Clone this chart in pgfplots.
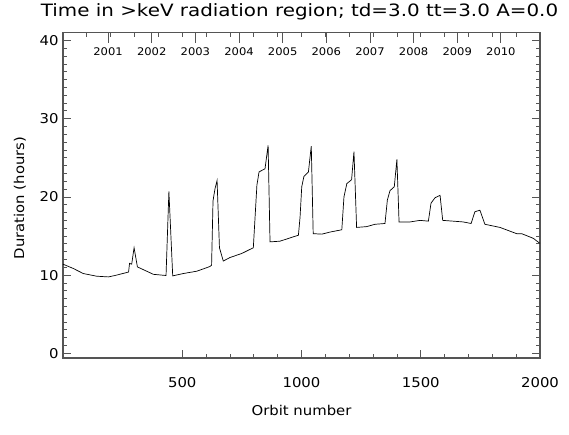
\documentclass[border=0pt]{standalone}
\usepackage{fontspec}
\setmainfont{DejaVu Sans}[FakeStretch=1.1]
\newfontfamily\titlefont{DejaVu Sans}[FakeStretch=1.17]
\usepackage{pgfplots}
\pgfplotsset{compat=1.18}
\definecolor{axgray}{HTML}{555555}

\begin{document}
\begin{tikzpicture}[x=1pt,y=1pt]
\path[use as bounding box] (0,0) rectangle (569,434);
% main axis: duration vs orbit
\begin{axis}[
  name=main, at={(63pt,76pt)}, anchor=south west,
  scale only axis, width=477pt, height=325.3pt,
  xmin=0, xmax=2000, ymin=-0.6, ymax=41,
  xtick={500,1000,1500,2000}, minor x tick num=4, xtick pos=left,
  ytick={0,10,20,30,40}, minor y tick num=9,
  tick align=inside, major tick length=8pt, minor tick length=4pt,
  axis line style={axgray, line width=1.1pt},
  every tick/.style={axgray, line width=0.8pt},
  /pgf/number format/assume math mode=true,
  /pgf/number format/set thousands separator={},
  tick label style={font=\fontsize{13.5}{16}\selectfont},
  xticklabel style={yshift=-16pt},
  yticklabel style={xshift=-1pt},
  clip=false]
  \addplot[black, line width=0.7pt] coordinates {
    (0,11.4) (43,10.85) (85,10.2) (141,9.86) (190,9.77) (218,9.95) (267,10.33)
    (275,10.4) (279,11.5) (288,11.4) (298,13.5) (312,11.05) (379,10.1) (432,9.95)
    (444,20.7) (460,9.9) (504,10.2) (561,10.5) (616,11.1) (623,11.27)
    (629,19.5) (637,21.0) (646,22.1) (656,13.5) (672,11.8) (700,12.25) (749,12.76)
    (798,13.5) (813,21.5) (822,23.2) (847,23.6) (860,26.6) (868,14.25)
    (910,14.34) (966,14.9) (987,15.1) (994,17.45) (1001,21.3) (1010,22.6)
    (1029,23.2) (1041,26.5) (1049,15.3) (1085,15.24) (1119,15.5) (1169,15.8)
    (1178,20.0) (1190,21.7) (1210,22.2) (1220,25.8) (1231,16.1) (1273,16.2)
    (1308,16.5) (1350,16.6) (1360,19.6) (1371,20.8) (1389,21.3) (1400,24.8)
    (1409,16.8) (1455,16.8) (1497,17.0) (1532,16.9) (1543,19.2) (1560,19.9)
    (1581,20.2) (1592,17.0) (1636,16.9) (1678,16.8) (1711,16.6) (1727,18.1)
    (1748,18.3) (1769,16.5) (1832,16.1) (1902,15.3) (1923,15.3) (1972,14.7)
    (2000,14.05)};
\end{axis}
% top axis: years
\begin{axis}[
  at={(63pt,76pt)}, anchor=south west,
  scale only axis, width=477pt, height=325.3pt,
  xmin=0, xmax=2000, ymin=-0.6, ymax=41,
  axis x line*=top, hide y axis,
  xtick={189,372,555,738,921,1104,1287,1470,1653,1836},
  xticklabels={2001,2002,2003,2004,2005,2006,2007,2008,2009,2010},
  minor xtick={100,200,...,1900},
  tick align=inside, major tick length=10pt, minor tick length=4pt,
  axis line style={axgray, line width=1.1pt},
  every tick/.style={axgray, line width=0.8pt},
  xticklabel style={font=\fontsize{10.5}{12}\selectfont, anchor=center, yshift=-19pt}]
  \addplot[draw=none] coordinates {(0,0)};
\end{axis}
\node[font=\titlefont\fontsize{17}{20}\selectfont] at (299.5,422) {Time in >keV radiation region; td=3.0 tt=3.0 A=0.0};
\node[font=\fontsize{13.5}{16}\selectfont] at (301.5,24) {Orbit number};
\node[font=\fontsize{13.5}{16}\selectfont, rotate=90] at (20,236) {Duration (hours)};
\end{tikzpicture}
\end{document}
